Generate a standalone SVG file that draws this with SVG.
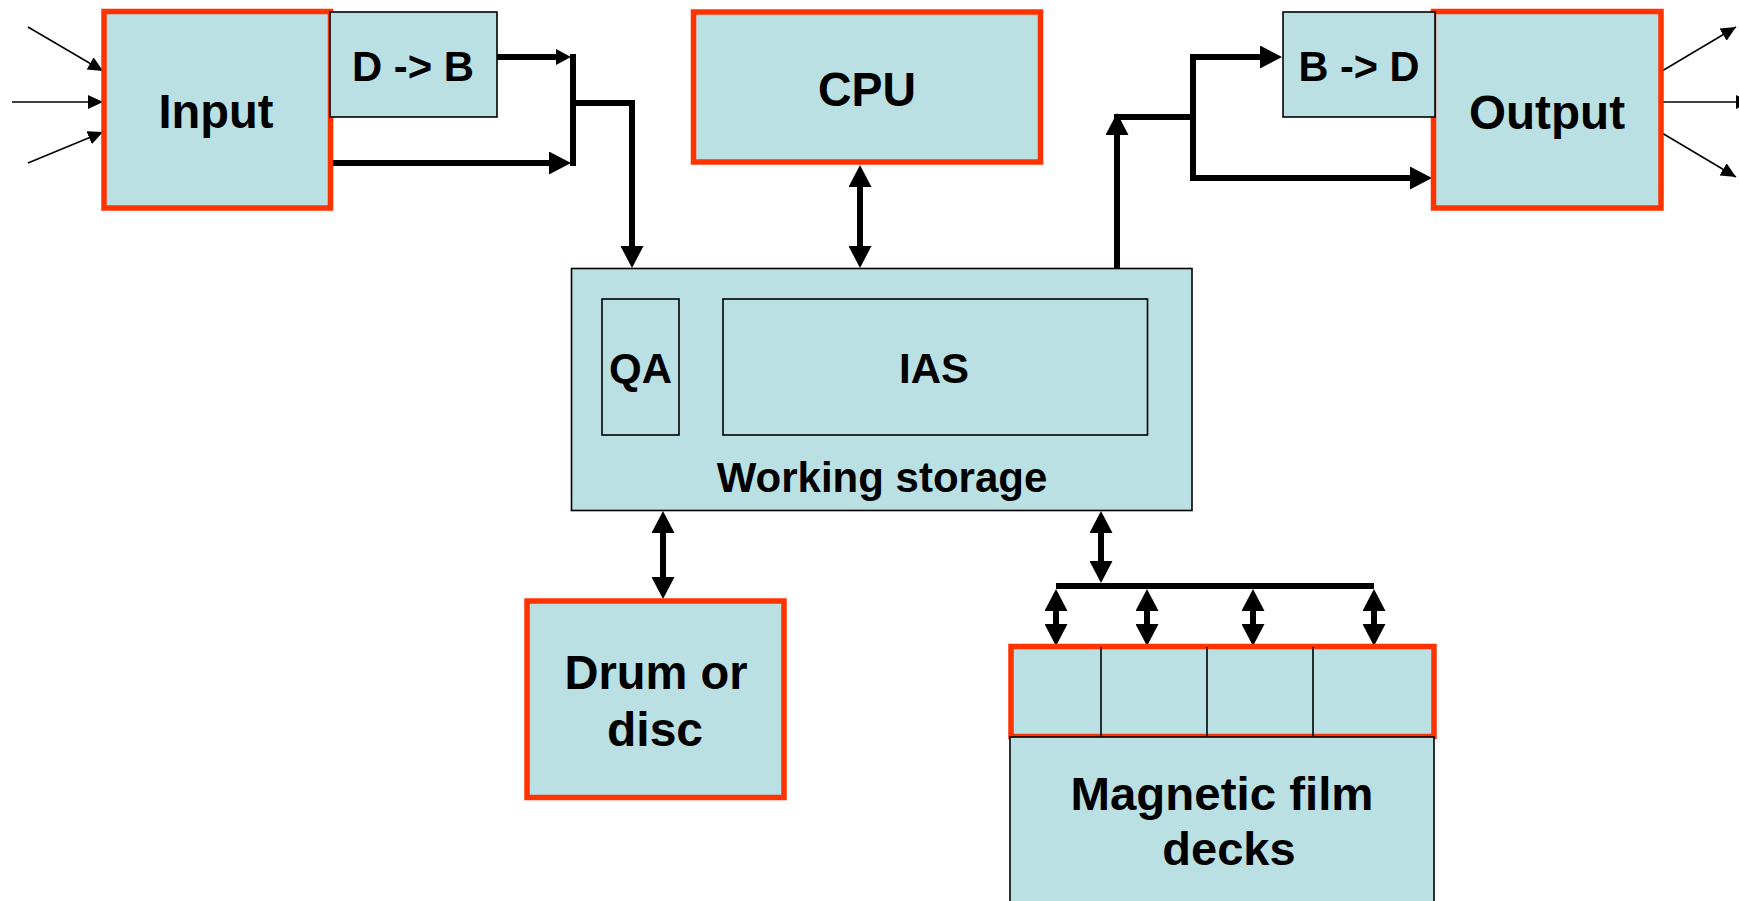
<svg xmlns="http://www.w3.org/2000/svg" width="1739" height="901" viewBox="0 0 1739 901">
<style>
.box{fill:#BBE0E3;stroke:#FF3300;stroke-width:5.5}
.sub{fill:#BBE0E3;stroke:#000;stroke-width:1.6}
.t{font-family:"Liberation Sans",Arial,sans-serif;font-weight:bold;fill:#000;text-anchor:middle}
.thick{fill:none;stroke:#000;stroke-width:6}
.thin{fill:none;stroke:#000;stroke-width:1.5}
</style>
<defs>
<marker id="ah" markerUnits="userSpaceOnUse" viewBox="0 0 22 23" refX="2" refY="11.5" markerWidth="22" markerHeight="23" orient="auto-start-reverse"><path d="M0,0 L22,11.5 L0,23 Z" fill="#000"/></marker>
<marker id="ahs" markerUnits="userSpaceOnUse" viewBox="0 0 15 16" refX="2" refY="8" markerWidth="15" markerHeight="16" orient="auto"><path d="M0,0 L15,8 L0,16 Z" fill="#000"/></marker>
<marker id="aht" markerUnits="userSpaceOnUse" viewBox="0 0 15 14" refX="15" refY="7" markerWidth="15" markerHeight="14" orient="auto"><path d="M0,0 L15,7 L0,14 Z" fill="#000"/></marker>
</defs>

<g id="connectors">
<line class="thin" x1="28" y1="27" x2="103" y2="71" marker-end="url(#aht)"/>
<line class="thin" x1="12" y1="102" x2="103" y2="102" marker-end="url(#aht)"/>
<line class="thin" x1="28" y1="163" x2="103" y2="132" marker-end="url(#aht)"/>
<line class="thick" x1="497" y1="57" x2="558" y2="57" marker-end="url(#ahs)"/>
<line class="thick" x1="333" y1="163" x2="551" y2="163" marker-end="url(#ah)"/>
<line class="thick" x1="573" y1="54" x2="573" y2="166"/>
<path class="thick" d="M573,103 H632 V248" marker-end="url(#ah)"/>
<line class="thick" x1="860" y1="185" x2="860" y2="248" marker-start="url(#ah)" marker-end="url(#ah)"/>
<line class="thick" x1="1117" y1="268" x2="1117" y2="133" marker-end="url(#ah)"/>
<line class="thick" x1="1114" y1="117" x2="1193" y2="117"/>
<line class="thick" x1="1193" y1="54" x2="1193" y2="181"/>
<line class="thick" x1="1193" y1="57" x2="1262" y2="57" marker-end="url(#ah)"/>
<line class="thick" x1="1193" y1="178" x2="1412" y2="178" marker-end="url(#ah)"/>
<line class="thin" x1="1662" y1="71" x2="1736" y2="27" marker-end="url(#aht)"/>
<line class="thin" x1="1662" y1="102" x2="1751" y2="102" marker-end="url(#aht)"/>
<line class="thin" x1="1662" y1="133" x2="1736" y2="177" marker-end="url(#aht)"/>
<line class="thick" x1="663" y1="531" x2="663" y2="579" marker-start="url(#ah)" marker-end="url(#ah)"/>
<line class="thick" x1="1101" y1="531" x2="1101" y2="563" marker-start="url(#ah)" marker-end="url(#ah)"/>
<line class="thick" x1="1056" y1="586" x2="1374" y2="586"/>
<line class="thick" x1="1056" y1="609" x2="1056" y2="626" marker-start="url(#ah)" marker-end="url(#ah)"/>
<line class="thick" x1="1147" y1="609" x2="1147" y2="626" marker-start="url(#ah)" marker-end="url(#ah)"/>
<line class="thick" x1="1253" y1="609" x2="1253" y2="626" marker-start="url(#ah)" marker-end="url(#ah)"/>
<line class="thick" x1="1374" y1="609" x2="1374" y2="626" marker-start="url(#ah)" marker-end="url(#ah)"/>
</g>

<g id="input">
<rect class="box" x="104" y="11.5" width="226.5" height="196.5"/>
<text class="t" x="216" y="128" font-size="48" textLength="115" lengthAdjust="spacingAndGlyphs">Input</text>
</g>
<g id="d2b">
<rect class="sub" x="330" y="12" width="167" height="105"/>
<text class="t" x="413" y="81" font-size="43" textLength="122" lengthAdjust="spacingAndGlyphs">D -&gt; B</text>
</g>
<g id="cpu">
<rect class="box" x="693.5" y="12" width="347" height="150"/>
<text class="t" x="867" y="106" font-size="48" textLength="98" lengthAdjust="spacingAndGlyphs">CPU</text>
</g>
<g id="output">
<rect class="box" x="1433.5" y="11.5" width="227.5" height="196.5"/>
<text class="t" x="1547" y="129" font-size="48" textLength="156" lengthAdjust="spacingAndGlyphs">Output</text>
</g>
<g id="b2d">
<rect class="sub" x="1283" y="12" width="152" height="105"/>
<text class="t" x="1359" y="81" font-size="43" textLength="121" lengthAdjust="spacingAndGlyphs">B -&gt; D</text>
</g>
<g id="working-storage">
<rect class="sub" x="571.5" y="268.5" width="620.5" height="242"/>
<text class="t" x="882" y="492" font-size="42">Working storage</text>
<g id="qa">
<rect class="sub" x="602" y="299" width="77" height="136" stroke-width="2"/>
<text class="t" x="640.5" y="383" font-size="42">QA</text>
</g>
<g id="ias">
<rect class="sub" x="723" y="299" width="424.5" height="136" stroke-width="2"/>
<text class="t" x="934" y="383" font-size="42">IAS</text>
</g>
</g>
<g id="drum">
<rect class="box" x="527" y="601" width="257" height="196.5"/>
<text class="t" x="656" y="689" font-size="48" textLength="183" lengthAdjust="spacingAndGlyphs">Drum or</text>
<text class="t" x="655" y="746" font-size="48">disc</text>
</g>
<g id="magnetic-film-decks">
<rect class="box" x="1011" y="646.5" width="423" height="90"/>
<line x1="1101" y1="647" x2="1101" y2="737" stroke="#000" stroke-width="1.6"/>
<line x1="1207" y1="647" x2="1207" y2="737" stroke="#000" stroke-width="1.6"/>
<line x1="1313" y1="647" x2="1313" y2="737" stroke="#000" stroke-width="1.6"/>
<rect class="sub" x="1010" y="737" width="424" height="200"/>
<text class="t" x="1222" y="810" font-size="47" textLength="303" lengthAdjust="spacingAndGlyphs">Magnetic film</text>
<text class="t" x="1229" y="865" font-size="47">decks</text>
</g>
</svg>
